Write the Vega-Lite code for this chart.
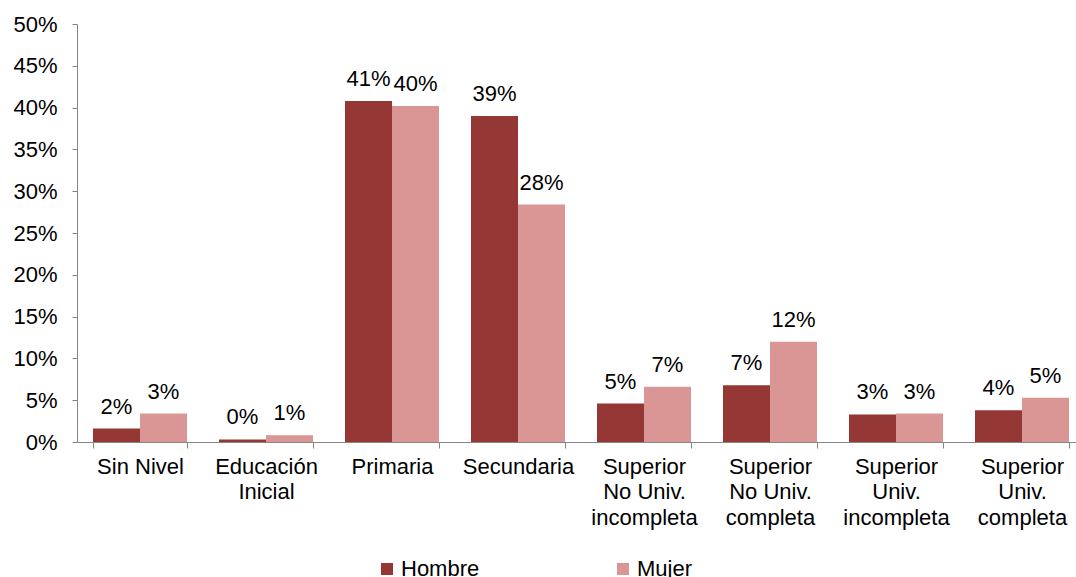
{
  "$schema": "https://vega.github.io/schema/vega-lite/v6.json",
  "autosize": {"type": "none"},
  "width": 1008,
  "height": 418,
  "padding": {"left": 77, "top": 24, "right": 0, "bottom": 135},
  "background": "white",
  "config": {
    "font": "Liberation Sans",
    "view": {"stroke": null},
    "axis": {"labelFont": "Liberation Sans", "labelFontSize": 22, "labelColor": "#000000", "domainColor": "#868686", "tickColor": "#868686", "grid": false, "title": null}
  },
  "data": {
    "values": [
      {"nivel": "Sin Nivel", "sexo": "Hombre", "valor": 0.016},
      {"nivel": "Sin Nivel", "sexo": "Mujer", "valor": 0.034},
      {"nivel": "Educación|Inicial", "sexo": "Hombre", "valor": 0.003},
      {"nivel": "Educación|Inicial", "sexo": "Mujer", "valor": 0.008},
      {"nivel": "Primaria", "sexo": "Hombre", "valor": 0.408},
      {"nivel": "Primaria", "sexo": "Mujer", "valor": 0.402},
      {"nivel": "Secundaria", "sexo": "Hombre", "valor": 0.390},
      {"nivel": "Secundaria", "sexo": "Mujer", "valor": 0.284},
      {"nivel": "Superior|No Univ.|incompleta", "sexo": "Hombre", "valor": 0.046},
      {"nivel": "Superior|No Univ.|incompleta", "sexo": "Mujer", "valor": 0.066},
      {"nivel": "Superior|No Univ.|completa", "sexo": "Hombre", "valor": 0.068},
      {"nivel": "Superior|No Univ.|completa", "sexo": "Mujer", "valor": 0.120},
      {"nivel": "Superior|Univ.|incompleta", "sexo": "Hombre", "valor": 0.033},
      {"nivel": "Superior|Univ.|incompleta", "sexo": "Mujer", "valor": 0.034},
      {"nivel": "Superior|Univ.|completa", "sexo": "Hombre", "valor": 0.038},
      {"nivel": "Superior|Univ.|completa", "sexo": "Mujer", "valor": 0.053}
    ]
  },
  "encoding": {
    "x": {
      "field": "nivel", "type": "nominal", "sort": null,
      "scale": {"paddingInner": 0.254, "paddingOuter": 0.127},
      "axis": {"labelAngle": 0, "labelExpr": "isString(datum.value) ? split(datum.value, '|') : ''", "labelLineHeight": 25.5, "labelPadding": 8, "tickBand": "extent", "tickSize": 6, "labelBaseline": "top", "labelLimit": 200}
    },
    "xOffset": {"field": "sexo", "type": "nominal", "scale": {"paddingInner": 0}},
    "y": {
      "field": "valor", "type": "quantitative",
      "scale": {"domain": [0, 0.5], "nice": false},
      "axis": {"format": ".0%", "values": [0, 0.05, 0.1, 0.15, 0.2, 0.25, 0.3, 0.35, 0.4, 0.45, 0.5], "tickSize": 5, "labelPadding": 15}
    }
  },
  "layer": [
    {
      "mark": {"type": "bar"},
      "encoding": {
        "color": {
          "field": "sexo", "type": "nominal",
          "scale": {"domain": ["Hombre", "Mujer"], "range": ["#953735", "#D99694"]},
          "legend": {"orient": "none", "legendX": 299, "legendY": 534, "direction": "horizontal", "title": null, "symbolType": "square", "symbolSize": 144, "symbolStrokeWidth": 0, "symbolOpacity": 1, "labelFontSize": 22, "labelFont": "Liberation Sans", "labelColor": "#000000", "labelOffset": 3, "columnPadding": 132}
        }
      }
    },
    {
      "mark": {"type": "text", "baseline": "alphabetic", "dy": -15, "fontSize": 22, "font": "Liberation Sans", "color": "#000000"},
      "encoding": {
        "text": {"field": "valor", "type": "quantitative", "format": ".0%"}
      }
    }
  ]
}
